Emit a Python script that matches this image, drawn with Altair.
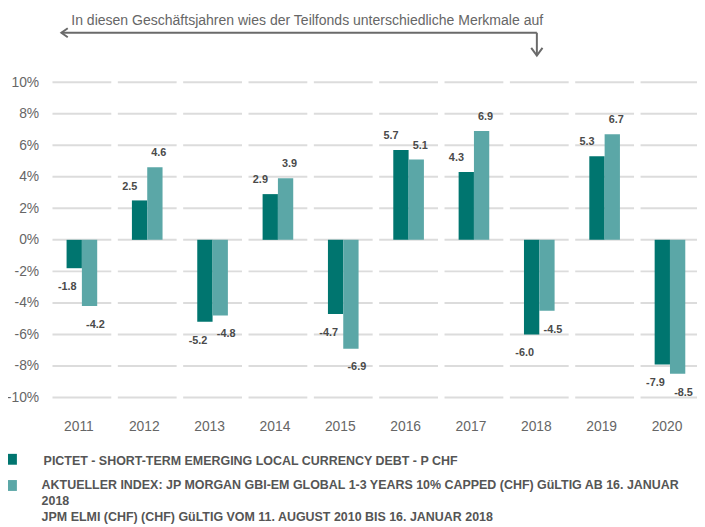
import altair as alt
import pandas as pd

years = ["2011", "2012", "2013", "2014", "2015", "2016", "2017", "2018", "2019", "2020"]
fund_values = [-1.8, 2.5, -5.2, 2.9, -4.7, 5.7, 4.3, -6.0, 5.3, -7.9]
index_values = [-4.2, 4.6, -4.8, 3.9, -6.9, 5.1, 6.9, -4.5, 6.7, -8.5]
series_keys = ["fund", "index"]
series_labels = [
    "PICTET - SHORT-TERM EMERGING LOCAL CURRENCY DEBT - P CHF",
    "AKTUELLER INDEX: JP MORGAN GBI-EM GLOBAL 1-3 YEARS 10% CAPPED (CHF) GüLTIG AB 16. JANUAR\n2018\nJPM ELMI (CHF) (CHF) GüLTIG VOM 11. AUGUST 2010 BIS 16. JANUAR 2018",
]
colors = ["#00756F", "#5BA7A7"]
y_ticks = [-10, -8, -6, -4, -2, 0, 2, 4, 6, 8, 10]
annotation = "In diesen Geschäftsjahren wies der Teilfonds unterschiedliche Merkmale auf"

FONT = "Liberation Sans, Arial, sans-serif"
GRAY = "#666666"

rows = []
for y, f, i in zip(years, fund_values, index_values):
    rows.append({"year": y, "series": "fund", "value": f, "label": f"{f:.1f}"})
    rows.append({"year": y, "series": "index", "value": i, "label": f"{i:.1f}"})
df = pd.DataFrame(rows)

grid_df = pd.DataFrame([{"year": y, "value": float(t)} for y in years for t in y_ticks])

x_scale = alt.Scale(range=[0, 654.4], paddingInner=0.1, paddingOuter=0)
x_axis = alt.Axis(
    title=None, labelAngle=0, ticks=False, domain=False, grid=False,
    labelFont=FONT, labelFontSize=14, labelColor=GRAY,
    labelPadding=29, labelBaseline="middle", labelOffset=-3,
)
x_enc = alt.X("year:N", sort=years, scale=x_scale, axis=x_axis)
y_enc = alt.Y(
    "value:Q",
    scale=alt.Scale(domain=[-10, 10], nice=False),
    axis=alt.Axis(
        title=None, values=y_ticks, labelExpr="datum.value + '%'",
        ticks=False, domain=False, grid=False,
        labelFont=FONT, labelFontSize=14, labelColor=GRAY, labelPadding=14,
    ),
)
xoff = alt.XOffset("series:N", sort=series_keys,
                   scale=alt.Scale(paddingOuter=0.92, paddingInner=0))
color_enc = alt.Color("series:N", scale=alt.Scale(domain=series_keys, range=colors), legend=None)

# segmented gridlines: one horizontal tick per band and tick value
grid = alt.Chart(grid_df).mark_tick(
    color="#dcdcdc", thickness=2, size=59.5, opacity=1
).encode(x=x_enc, y=y_enc)

bars = alt.Chart(df).mark_bar(opacity=1).encode(x=x_enc, xOffset=xoff, y=y_enc, color=color_enc)


def label_layer(series, positive, dx, dy):
    cond = f"datum.series == '{series}' && datum.value {'>=' if positive else '<'} 0"
    return alt.Chart(df).transform_filter(cond).mark_text(
        dx=dx, dy=dy, fontSize=11, fontWeight="bold", color="#4a4a4a",
        font=FONT, baseline="middle", align="center",
    ).encode(x=x_enc, xOffset=xoff, y=y_enc, text="label:N")


labels = [
    label_layer("fund", True, -10, -14),
    label_layer("index", True, 4, -14),
    label_layer("fund", False, -7, 19),
    label_layer("index", False, 6, 19),
]

one = pd.DataFrame({"t": [annotation]})
ann_text = alt.Chart(one).mark_text(
    align="left", baseline="alphabetic", fontSize=14.2, color=GRAY, font=FONT
).encode(x=alt.value(19), y=alt.value(-58), text="t:N")
ARROW = "#6a6a6a"
ann_h = alt.Chart(one).mark_rule(strokeWidth=2, color=ARROW).encode(
    x=alt.value(9), x2=alt.value(490), y=alt.value(-50)
)
ann_v = alt.Chart(one).mark_rule(strokeWidth=2, color=ARROW).encode(
    x=alt.value(490), y=alt.value(-50), y2=alt.value(-27)
)
head_left = alt.Chart(one).mark_point(
    shape="M 1.4 -1 L 0 0 L 1.4 1", filled=False, strokeWidth=2, size=85, color=ARROW, opacity=1
).encode(x=alt.value(9), y=alt.value(-50))
head_down = alt.Chart(one).mark_point(
    shape="M -1 -1.35 L 0 0 L 1 -1.35", filled=False, strokeWidth=2, size=130, color=ARROW, opacity=1
).encode(x=alt.value(490), y=alt.value(-27))

leg1 = pd.DataFrame({"t": [series_labels[0]]})
leg2 = pd.DataFrame({"t": [series_labels[1]]})
sq1 = alt.Chart(leg1).mark_square(size=121, color=colors[0], opacity=1).encode(
    x=alt.value(-41.5), y=alt.value(381.5)
)
sq2 = alt.Chart(leg2).mark_square(size=121, color=colors[1], opacity=1).encode(
    x=alt.value(-41.5), y=alt.value(408)
)
lt1 = alt.Chart(leg1).mark_text(
    align="left", baseline="alphabetic", fontSize=12.6, fontWeight="bold", color="#555555", font=FONT
).encode(x=alt.value(-9), y=alt.value(387), text="t:N")
lt2 = alt.Chart(leg2).mark_text(
    align="left", baseline="alphabetic", fontSize=12.6, fontWeight="bold", color="#555555", font=FONT,
    lineBreak="\n", lineHeight=16,
).encode(x=alt.value(-11), y=alt.value(412), text="t:N")

chart = alt.layer(
    ann_text, ann_h, ann_v, head_left, head_down, sq1, sq2, lt1, lt2, grid, bars, *labels
).properties(
    width=644, height=319,
    autosize=alt.AutoSizeParams(type="none"),
    padding={"left": 45, "top": 72, "right": 8, "bottom": 131},
    background="white",
).configure_view(stroke=None)

chart.save("out.html", embed_options={"renderer": "svg", "actions": False})
